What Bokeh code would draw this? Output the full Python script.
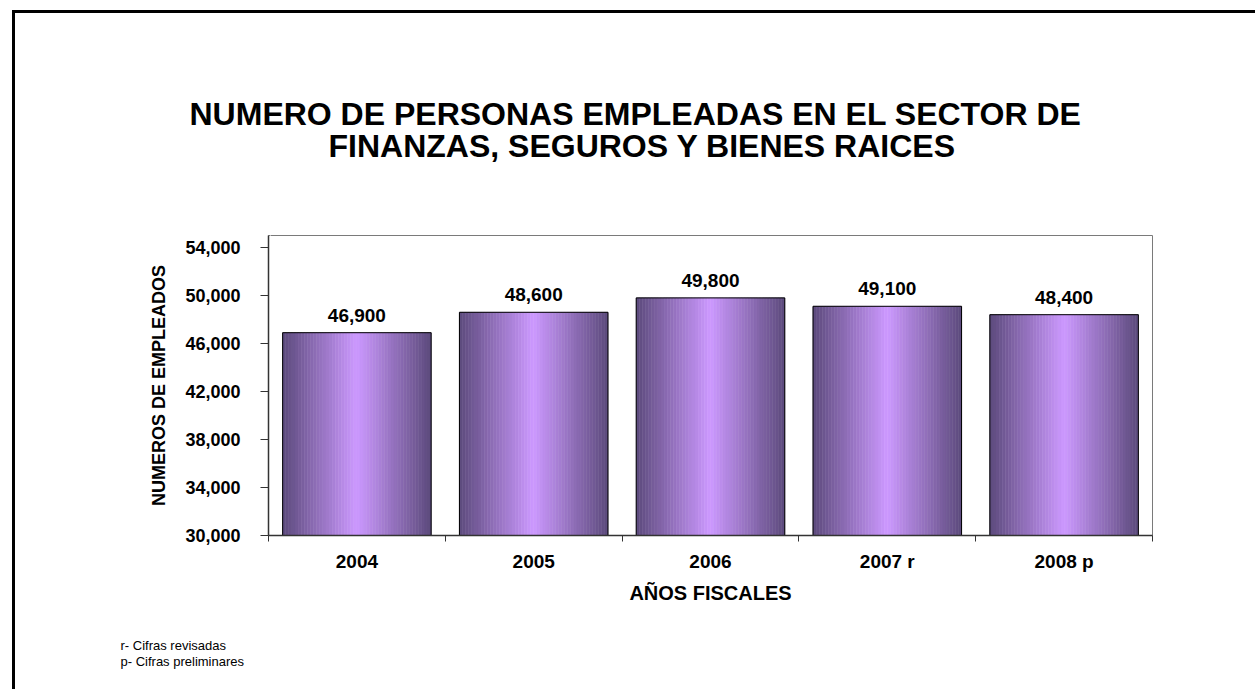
from bokeh.plotting import figure
from bokeh.models import (FixedTicker, NumeralTickFormatter, Range1d, Title,
                          LabelSet, ColumnDataSource, LinearAxis)
from bokeh.core.properties import value
from bokeh.embed import file_html
from bokeh.resources import INLINE

# ---------------- data ----------------
years = ["2004", "2005", "2006", "2007 r", "2008 p"]
employees = [46900, 48600, 49800, 49100, 48400]
y_ticks = [30000, 34000, 38000, 42000, 46000, 50000, 54000]
y_min, y_max = 30000, 55000
title_lines = ["NUMERO DE PERSONAS EMPLEADAS EN EL SECTOR DE",
               "FINANZAS, SEGUROS Y BIENES RAICES"]
x_title = "AÑOS FISCALES"
y_title = "NUMEROS DE EMPLEADOS"
footnotes = ["r- Cifras revisadas", "p- Cifras preliminares"]

# ---------------- style ----------------
FONT = "Liberation Sans"
BAR_W = 0.84
N_STRIPS = 48
DARK = (92, 74, 124)
LIGHT = (204, 153, 255)

p = figure(frame_width=884, frame_height=300,
           min_border_left=253, min_border_right=103,
           min_border_top=222, min_border_bottom=152,
           x_range=Range1d(-0.5, len(years) - 0.5),
           y_range=Range1d(y_min, y_max),
           output_backend="svg", toolbar_location=None)

# slide frame: border on the top and left edges of the figure
p.styles = {"margin-left": "12px", "margin-top": "10px",
            "border-left": "3px solid black", "border-top": "3px solid black"}

p.background_fill_color = "white"
p.border_fill_color = "white"
p.outline_line_color = "#7a7a7a"
p.outline_line_width = 1
p.xgrid.visible = False
p.ygrid.visible = False
p.title.text = ""

xa = p.xaxis[0]
ya = p.yaxis[0]

# white spacer axis between the plot area and the title: one white tick at the
# left edge of the plot area gives the panel its height
spacer = LinearAxis(ticker=FixedTicker(ticks=[-0.49]), axis_line_color=None,
                    major_tick_out=78, major_tick_in=0, minor_tick_out=0,
                    minor_tick_in=0, major_label_standoff=0,
                    major_tick_line_color="white",
                    major_label_overrides={-0.49: ""},
                    major_label_text_font_size="1px",
                    major_label_text_color="white")
p.add_layout(spacer, "above")

# title: two centred lines (first added sits nearest the plot)
p.add_layout(Title(text=title_lines[1], align="left", offset=60,
                   text_font=FONT, text_font_size="32px", text_font_style="bold",
                   text_color="black", standoff=-12), "above")
p.add_layout(Title(text=title_lines[0], align="left", offset=-79,
                   text_font=FONT, text_font_size="32px", text_font_style="bold",
                   text_color="black", standoff=0), "above")

# footnotes below the x axis
p.add_layout(Title(text="\n".join(footnotes), align="left", offset=-148,
                   text_font=FONT, text_font_size="13px",
                   text_font_style="normal", text_color="black",
                   text_line_height=1.05, standoff=58), "below")

# gradient bars built from vertical strips
xs = list(range(len(years)))
sx, stop, scol = [], [], []
for i, v in zip(xs, employees):
    for k in range(N_STRIPS):
        f = (k + 0.5) / N_STRIPS
        t = abs(f - 0.5) * 2
        c = tuple(int(round(LIGHT[j] + (DARK[j] - LIGHT[j]) * t)) for j in range(3))
        sx.append(i - BAR_W / 2 + f * BAR_W)
        stop.append(v)
        scol.append("#%02x%02x%02x" % c)
strips = ColumnDataSource(dict(x=sx, top=stop, color=scol))
p.vbar(x="x", top="top", bottom=y_min, width=BAR_W / N_STRIPS * 1.02,
       fill_color="color", line_color="color", line_width=0.5, source=strips)

bars = ColumnDataSource(dict(x=xs, top=employees,
                             lbl=["{:,}".format(v) for v in employees]))
p.vbar(x="x", top="top", bottom=y_min, width=BAR_W, fill_color=None,
       line_color="black", line_width=1, source=bars)

p.add_layout(LabelSet(x="x", y="top", text="lbl", source=bars, y_offset=11,
                      text_align="center", text_baseline="alphabetic",
                      text_font=value(FONT), text_font_size=value("19px"),
                      text_font_style=value("bold"), text_color=value("black")))

# y axis
ya.ticker = FixedTicker(ticks=y_ticks)
ya.formatter = NumeralTickFormatter(format="0,0")
ya.major_label_text_font = FONT
ya.major_label_text_font_size = "18px"
ya.major_label_text_font_style = "bold"
ya.major_label_text_color = "black"
ya.major_tick_in = 0
ya.major_tick_out = 8
ya.minor_tick_out = 0
ya.minor_tick_in = 0
ya.major_tick_line_color = "#333333"
ya.axis_line_color = "#333333"
ya.axis_line_width = 1.5
ya.major_label_standoff = 20
ya.axis_label = y_title
ya.axis_label_text_font = FONT
ya.axis_label_text_font_size = "18px"
ya.axis_label_text_font_style = "bold"
ya.axis_label_text_color = "black"
ya.axis_label_standoff = 13

# x axis
xa.ticker = FixedTicker(ticks=xs, minor_ticks=[i - 0.5 for i in range(len(years) + 1)])
xa.major_label_overrides = {i: y for i, y in zip(xs, years)}
xa.major_label_text_font = FONT
xa.major_label_text_font_size = "19px"
xa.major_label_text_font_style = "bold"
xa.major_label_text_color = "black"
xa.major_tick_in = 0
xa.major_tick_out = 0
xa.minor_tick_in = 0
xa.minor_tick_out = 6
xa.minor_tick_line_color = "#333333"
xa.axis_line_color = "#333333"
xa.axis_line_width = 1.5
xa.major_label_standoff = 9
xa.axis_label = x_title
xa.axis_label_text_font = FONT
xa.axis_label_text_font_size = "20px"
xa.axis_label_text_font_style = "bold"
xa.axis_label_text_color = "black"
xa.axis_label_standoff = 7

open("out.html", "w").write(file_html(p, INLINE))
